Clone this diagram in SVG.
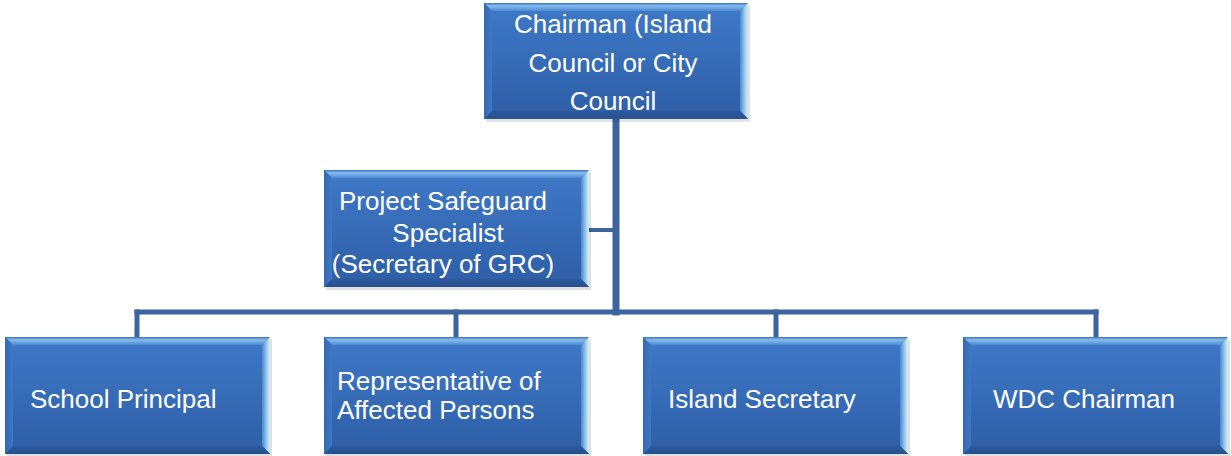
<svg xmlns="http://www.w3.org/2000/svg" xmlns:xlink="http://www.w3.org/1999/xlink" width="1231" height="456" viewBox="0 0 1231 456">
<style>
.lbl{font-family:"Liberation Sans",Arial,sans-serif;font-size:26px;fill:#ffffff}
.c{text-anchor:middle}
.conn{stroke:#3c65a0;fill:none;stroke-linecap:square}
</style>
<defs>
<linearGradient id="gMain" x1="0" y1="0" x2="0" y2="1">
<stop offset="0" stop-color="#3f79c8"/>
<stop offset="1" stop-color="#2e5ea6"/>
</linearGradient>
<linearGradient id="gTop" x1="0" y1="0" x2="0" y2="1">
<stop offset="0" stop-color="#3a70c0"/>
<stop offset="0.35" stop-color="#86bdee"/>
<stop offset="1" stop-color="#4f8ad3"/>
</linearGradient>
<linearGradient id="gRight" x1="0" y1="0" x2="1" y2="0">
<stop offset="0" stop-color="#4a86cf"/>
<stop offset="0.7" stop-color="#a9d6f2"/>
<stop offset="1" stop-color="#d6f0f8"/>
</linearGradient>
<linearGradient id="gBot" x1="0" y1="0" x2="0" y2="1">
<stop offset="0" stop-color="#2d5a9e"/>
<stop offset="1" stop-color="#264f8c"/>
</linearGradient>
<linearGradient id="gLeft" x1="0" y1="0" x2="1" y2="0">
<stop offset="0" stop-color="#3468b3"/>
<stop offset="1" stop-color="#3f78c4"/>
</linearGradient>
<g id="box">
<rect x="2" y="3" width="265" height="117" fill="#000" opacity="0.12"/>
<rect x="0" y="0" width="265" height="117" fill="url(#gMain)"/>
<polygon points="0,0 265,0 257,8 8,8" fill="url(#gTop)"/>
<polygon points="265,0 265,117 257,109 257,8" fill="url(#gRight)"/>
<polygon points="0,117 265,117 257,109 8,109" fill="url(#gBot)"/>
<polygon points="0,0 8,8 8,109 0,117" fill="url(#gLeft)"/>
</g>
</defs>
<rect width="1231" height="456" fill="#ffffff"/>
<g id="connectors">
<line class="conn" x1="616" y1="118" x2="616" y2="312" stroke-width="7"/>
<line class="conn" x1="588" y1="230" x2="614" y2="230" stroke-width="4"/>
<line class="conn" x1="137" y1="312" x2="1096" y2="312" stroke-width="5"/>
<line class="conn" x1="137" y1="312" x2="137" y2="337" stroke-width="5"/>
<line class="conn" x1="456" y1="312" x2="456" y2="337" stroke-width="5"/>
<line class="conn" x1="776" y1="312" x2="776" y2="337" stroke-width="5"/>
<line class="conn" x1="1096" y1="312" x2="1096" y2="337" stroke-width="5"/>
</g>
<g id="chairman">
<use xlink:href="#box" href="#box" transform="translate(484,3) scale(0.996,0.99)"/>
<text class="lbl c" x="613" y="33">Chairman (Island</text>
<text class="lbl c" x="613" y="72">Council or City</text>
<text class="lbl c" x="613" y="110">Council</text>
</g>
<g id="safeguard">
<use xlink:href="#box" href="#box" transform="translate(324,170)"/>
<text class="lbl c" x="443" y="210">Project Safeguard</text>
<text class="lbl c" x="448" y="242">Specialist</text>
<text class="lbl c" x="443" y="273">(Secretary of GRC)</text>
</g>
<g id="principal">
<use xlink:href="#box" href="#box" transform="translate(5,337)"/>
<text class="lbl" x="30" y="408">School Principal</text>
</g>
<g id="representative">
<use xlink:href="#box" href="#box" transform="translate(324,337)"/>
<text class="lbl" x="337" y="390">Representative of</text>
<text class="lbl" x="337" y="419">Affected Persons</text>
</g>
<g id="secretary">
<use xlink:href="#box" href="#box" transform="translate(643,337)"/>
<text class="lbl" x="668" y="408">Island Secretary</text>
</g>
<g id="wdc">
<use xlink:href="#box" href="#box" transform="translate(963,337)"/>
<text class="lbl" x="993" y="408">WDC Chairman</text>
</g>
</svg>
